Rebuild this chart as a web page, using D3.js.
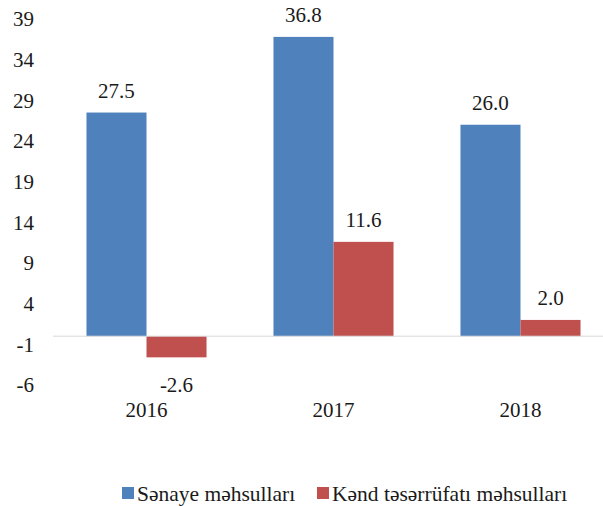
<!DOCTYPE html>
<html>
<head>
<meta charset="utf-8">
<script src="https://cdn.jsdelivr.net/npm/d3@7"></script>
<style>
  body { margin: 0; background: #fff; }
  svg { display: block; }
</style>
</head>
<body>
<svg id="chart" width="603" height="506"></svg>
<script>
"use strict";

const years = ["2016", "2017", "2018"];
const seriesNames = ["Sənaye məhsulları", "Kənd təsərrüfatı məhsulları"];
const industry = [27.5, 36.8, 26.0];
const agriculture = [-2.6, 11.6, 2.0];
const yTicks = [39, 34, 29, 24, 19, 14, 9, 4, -1, -6];
const colors = ["#4f81bd", "#c0504d"];

const seriesValues = [industry, agriculture];
const serif = "'Liberation Serif', 'DejaVu Serif', serif";
const textColor = "#1a1a1a";
const fmt = d3.formatLocale({decimal: ".", thousands: ",", grouping: [3],
                             currency: ["", ""], minus: "-"}).format(".1f");

const svg = d3.select("#chart")
              .attr("font-family", serif);

const x = d3.scaleBand()
            .domain(years)
            .range([53, 614])
            .paddingInner(0.358)
            .paddingOuter(0.179);

const xInner = d3.scaleBand()
                 .domain(seriesNames)
                 .range([0, x.bandwidth()]);

const y = d3.scaleLinear()
            .domain([-6, 39])
            .range([385, 19]);

// y tick labels (no axis line)
svg.append("g")
   .selectAll("text")
   .data(yTicks)
   .join("text")
   .attr("x", 34)
   .attr("y", d => y(d))
   .attr("dy", "0.35em")
   .attr("text-anchor", "end")
   .attr("font-size", 21)
   .attr("fill", textColor)
   .text(d => d);

// bars
const groups = svg.append("g")
                  .selectAll("g")
                  .data(years)
                  .join("g")
                  .attr("transform", d => `translate(${x(d)}, 0)`);

const cells = (d, i) => seriesNames.map((s, j) => ({s, j, v: seriesValues[j][i]}));

groups.selectAll("rect")
      .data(cells)
      .join("rect")
      .attr("x", d => xInner(d.s))
      .attr("width", xInner.bandwidth())
      .attr("y", d => y(Math.max(0, d.v)))
      .attr("height", d => Math.abs(y(d.v) - y(0)))
      .attr("fill", d => colors[d.j]);

groups.selectAll("text")
      .data(cells)
      .join("text")
      .attr("x", d => xInner(d.s) + xInner.bandwidth() / 2)
      .attr("y", d => d.v >= 0 ? y(d.v) - 22 : y(d.v) + 27)
      .attr("dy", "0.35em")
      .attr("text-anchor", "middle")
      .attr("font-size", 21)
      .attr("fill", textColor)
      .text(d => fmt(d.v));

// zero line
svg.append("line")
   .attr("x1", 53)
   .attr("x2", 603)
   .attr("y1", y(0))
   .attr("y2", y(0))
   .attr("stroke", "#d9d9d9")
   .attr("stroke-width", 1);

// category labels
svg.append("g")
   .selectAll("text")
   .data(years)
   .join("text")
   .attr("x", d => x(d) + x.bandwidth() / 2)
   .attr("y", 410)
   .attr("dy", "0.35em")
   .attr("text-anchor", "middle")
   .attr("font-size", 21)
   .attr("fill", textColor)
   .text(d => d);

// legend
const legendX = [122, 317];
const legend = svg.append("g")
                  .selectAll("g")
                  .data(seriesNames)
                  .join("g")
                  .attr("transform", (d, i) => `translate(${legendX[i]}, 493)`);

legend.append("rect")
      .attr("x", 0)
      .attr("y", -6)
      .attr("width", 12)
      .attr("height", 12)
      .attr("fill", (d, i) => colors[i]);

legend.append("text")
      .attr("x", 15)
      .attr("y", 0)
      .attr("dy", "0.35em")
      .attr("font-size", 21.5)
      .attr("fill", textColor)
      .text(d => d);
</script>
</body>
</html>
